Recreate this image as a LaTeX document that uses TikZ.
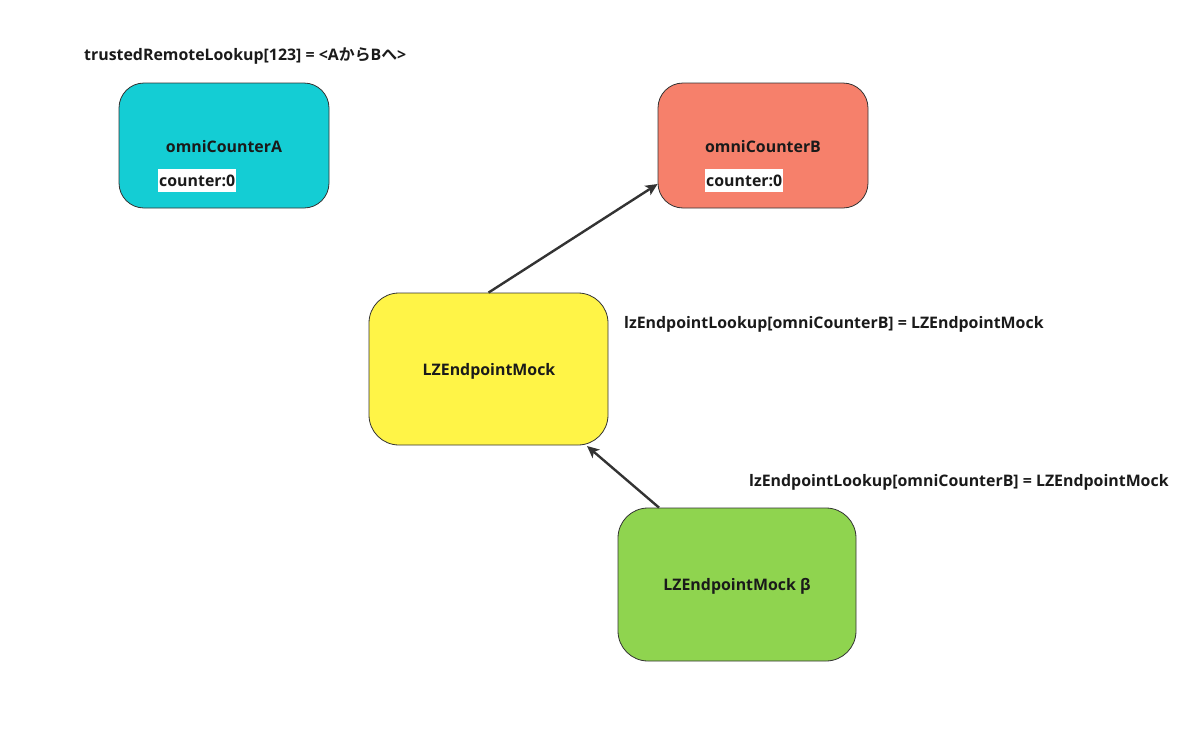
\documentclass[tikz,border=0pt]{standalone}
\usepackage{fontspec}
\setmainfont{Open Sans}[BoldFont={* Bold}]
\newfontfamily\cjkfont{Noto Sans CJK JP}[BoldFont={* Bold}]
\usetikzlibrary{arrows.meta,calc}
\definecolor{cyanbox}{HTML}{14CDD4}
\definecolor{salmonbox}{HTML}{F6806B}
\definecolor{yellowbox}{HTML}{FFF447}
\definecolor{greenbox}{HTML}{8FD44F}
\definecolor{edge}{HTML}{333333}
\definecolor{ink}{HTML}{1A1A1A}
\tikzset{
  box/.style={draw=edge, line width=0.8pt, rounded corners=#1, inner sep=0pt},
  box/.default=25pt,
  lbl/.style={font=\bfseries\fontsize{15.9}{18}\selectfont, text=ink, inner sep=0pt},
  cnt/.style={lbl, fill=white, inner xsep=1pt, minimum height=23pt},
  conn/.style={draw=edge, line width=2.4pt, -{Stealth[length=12pt,width=11pt,inset=3pt]}},
}
\begin{document}
\begin{tikzpicture}[x=1pt,y=-1pt]
\useasboundingbox (0,0) rectangle (1200,747);
% boxes
\node[box, fill=cyanbox, minimum width=210pt, minimum height=125pt] (A) at (224,145.5) {};
\node[box, fill=salmonbox, minimum width=210pt, minimum height=125pt] (B) at (763,145.5) {};
\node[box=30pt, fill=yellowbox, minimum width=239pt, minimum height=152pt] (Y) at (488.5,369) {};
\node[box=30pt, fill=greenbox, minimum width=238pt, minimum height=153pt] (G) at (737,584.5) {};
% texts in boxes
\node[lbl] (Atitle) at (224,147) {omniCounterA};
\node[cnt, anchor=west] (Acnt) at (158,180.5) {counter:0};
\node[lbl] (Btitle) at (763,147) {omniCounterB};
\node[cnt, anchor=west] (Bcnt) at (705,180.5) {counter:0};
\node[lbl] (Ytitle) at (489,371) {LZEndpointMock};
\node[lbl] (Gtitle) at (737,586) {LZEndpointMock β};
% free labels
\node[lbl, anchor=west] (trusted) at (84,56) {trustedRemoteLookup[123] = <A{\cjkfont\bfseries から}B{\cjkfont\bfseries へ}>};
\node[lbl, anchor=west] (lz1) at (624,324.5) {lzEndpointLookup[omniCounterB] = LZEndpointMock};
\node[lbl, anchor=west] (lz2) at (749,482.5) {lzEndpointLookup[omniCounterB] = LZEndpointMock};
% connectors
\coordinate (Bin) at ([yshift=-38.5pt]B.west);
\coordinate (Gout) at ([xshift=-78pt]G.north);
\coordinate (Yin) at (587,446);
\draw[conn] (Y.north) -- (Bin);
\draw[conn] (Gout) -- (Yin);
\end{tikzpicture}
\end{document}
